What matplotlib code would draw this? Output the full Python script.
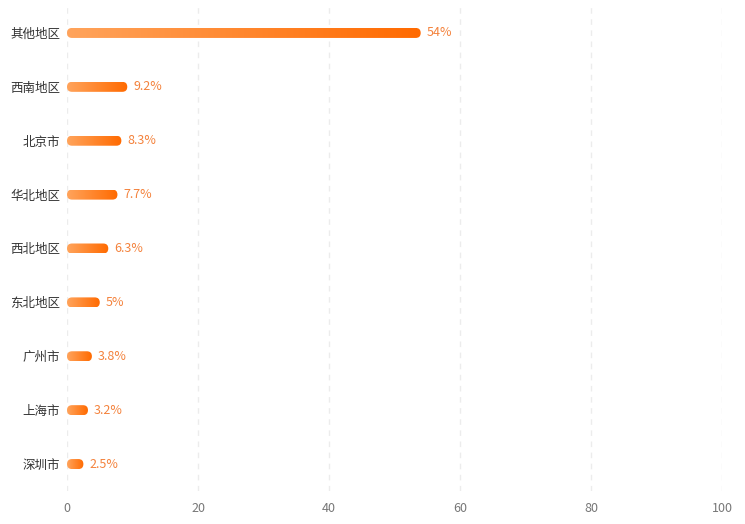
import numpy as np
import matplotlib
matplotlib.use('Agg')
import matplotlib.pyplot as plt
from matplotlib.patches import FancyBboxPatch
from matplotlib.colors import LinearSegmentedColormap

plt.rcParams['font.family'] = ['Noto Sans CJK SC', 'DejaVu Sans']

# 数据
regions = ['其他地区', '西南地区', '北京市', '华北地区', '西北地区', '东北地区', '广州市', '上海市', '深圳市']
shares = [54, 9.2, 8.3, 7.7, 6.3, 5, 3.8, 3.2, 2.5]
share_labels = ['54%', '9.2%', '8.3%', '7.7%', '6.3%', '5%', '3.8%', '3.2%', '2.5%']
xticks = [0, 20, 40, 60, 80, 100]

W, H = 745, 524
fig = plt.figure(figsize=(W / 100, H / 100), dpi=100)
ax = fig.add_axes([67 / W, 1 - 491 / H, (722 - 67) / W, (491 - 6) / H])

cmap = LinearSegmentedColormap.from_list('og', ['#ffa45c', '#ff6a00'])
grad = np.linspace(0, 1, 256).reshape(1, -1)

# 像素与数据单位换算
px_x = 100 / (722 - 67)
px_y = len(regions) / (491 - 6)
bar_h = 10 * px_y
rad = 5 * px_x
aspect = px_y / px_x

for i, (v, lab) in enumerate(zip(shares, share_labels)):
    patch = FancyBboxPatch((0, i - bar_h / 2), v, bar_h,
                           boxstyle=f'round,pad=0,rounding_size={rad}',
                           mutation_aspect=aspect, linewidth=0,
                           facecolor='none', edgecolor='none')
    ax.add_patch(patch)
    im = ax.imshow(grad, cmap=cmap, aspect='auto', interpolation='bilinear',
                   extent=(0, v, i + bar_h / 2, i - bar_h / 2), zorder=3)
    im.set_clip_path(patch)
    ax.text(v + 6 * px_x, i, lab, va='center', ha='left', fontsize=9,
            color='#f4823c', zorder=4)

ax.set_xlim(0, 100)
ax.set_ylim(len(regions) - 0.5, -0.5)

ax.set_yticks(range(len(regions)))
ax.set_yticklabels(regions, fontsize=9, color='#333333')
ax.set_xticks(xticks)
ax.set_xticklabels([str(t) for t in xticks], fontsize=9, color='#777777')
ax.tick_params(axis='both', length=0)
ax.tick_params(axis='y', pad=5)
ax.tick_params(axis='x', pad=8)

ax.grid(axis='x', linestyle=(0, (4, 4)), color='#ececec', linewidth=1)
ax.grid(axis='y', visible=False)
ax.set_axisbelow(True)
for s in ax.spines.values():
    s.set_visible(False)

fig.savefig('out.png', dpi=100)
